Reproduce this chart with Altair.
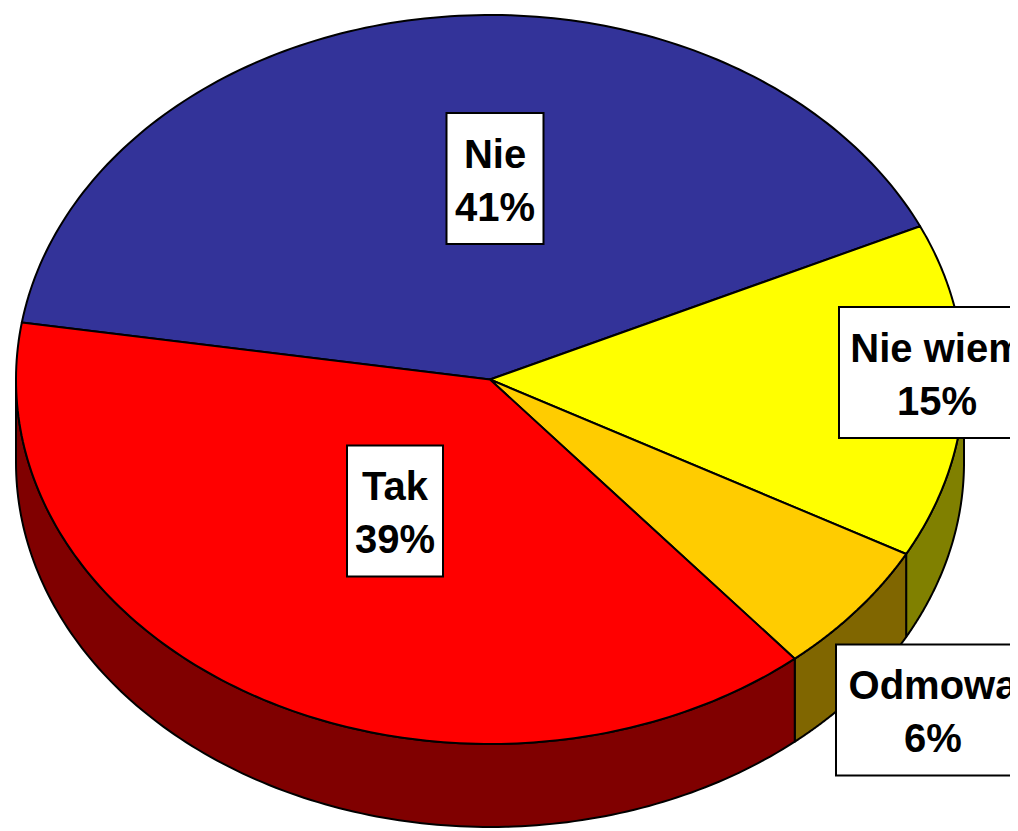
import altair as alt
import pandas as pd

# ---- data ----
categories = ["Nie", "Nie wiem", "Odmowa", "Tak"]
values = [41, 15, 6, 39]

# ---- styles ----
top_colors = ["#333399", "#FFFF00", "#FFCC00", "#FF0000"]
side_colors = ["#1A1A4D", "#808000", "#806600", "#800000"]

# ---- layout (page pixels) ----
W, H = 1002, 821
CX, CY, RX, RY, DEPTH = 490, 379.5, 474, 364.5, 83
START = 171  # degrees of the first slice's start, slices go clockwise
N = 140
label_cx = [495, 937, 933, 395]
label_cy = [178.5, 372.5, 710, 511]
label_w = [97, 196, 194, 96]
label_h = 131

slices = pd.DataFrame({"category": categories, "value": values, "order": list(range(len(categories)))})
labels = pd.DataFrame({"category": categories, "value": values,
                       "lx": label_cx, "ly": label_cy, "lw": label_w})

xs = alt.Scale(domain=[8, 8 + W], nice=False, zero=False)
ys = alt.Scale(domain=[8, 8 + H], nice=False, zero=False, reverse=True)

base = (
    alt.Chart(slices)
    .transform_joinaggregate(total="sum(value)")
    .transform_window(cum="sum(value)", sort=[alt.SortField("order")], frame=[None, 0])
    .transform_calculate(a0=f"{START} - 360*(datum.cum - datum.value)/datum.total")
    .transform_calculate(a1=f"{START} - 360*datum.cum/datum.total")
)

# side walls (visible lower half of the cylinder)
side = (
    base.transform_calculate(lo="max(datum.a1, -180)")
    .transform_calculate(hi="min(datum.a0, 0)")
    .transform_filter("datum.hi > datum.lo")
    .transform_calculate(k=f"sequence(0, {2 * N + 2})")
    .transform_flatten(["k"])
    .transform_calculate(j=f"datum.k <= {N} ? datum.k : {2 * N + 1} - datum.k")
    .transform_calculate(bot=f"datum.k > {N} ? 1 : 0")
    .transform_calculate(t=f"(datum.lo + (datum.hi - datum.lo) * datum.j / {N}) * PI / 180")
    .transform_calculate(x=f"{CX} + {RX} * cos(datum.t)")
    .transform_calculate(y=f"{CY} - {RY} * sin(datum.t) + datum.bot * {DEPTH}")
    .mark_line(interpolate="linear-closed", filled=True, stroke="black", strokeWidth=2, strokeJoin="round")
    .encode(
        x=alt.X("x:Q", scale=xs, axis=None),
        y=alt.Y("y:Q", scale=ys, axis=None),
        order=alt.Order("k:Q"),
        detail="category:N",
        color=alt.Color("category:N", scale=alt.Scale(domain=categories, range=side_colors), legend=None),
    )
)

# top face
top = (
    base.transform_calculate(k=f"sequence(-1, {N + 1})")
    .transform_flatten(["k"])
    .transform_calculate(t=f"(datum.a0 + (datum.a1 - datum.a0) * datum.k / {N}) * PI / 180")
    .transform_calculate(x=f"datum.k < 0 ? {CX} : {CX} + {RX} * cos(datum.t)")
    .transform_calculate(y=f"datum.k < 0 ? {CY} : {CY} - {RY} * sin(datum.t)")
    .mark_line(interpolate="linear-closed", filled=True, stroke="black", strokeWidth=2, strokeJoin="round")
    .encode(
        x=alt.X("x:Q", scale=xs, axis=None),
        y=alt.Y("y:Q", scale=ys, axis=None),
        order=alt.Order("k:Q"),
        detail="category:N",
        color=alt.Color("category:N", scale=alt.Scale(domain=categories, range=top_colors), legend=None),
    )
)

lab = (
    alt.Chart(labels)
    .transform_calculate(x1="datum.lx - datum.lw / 2")
    .transform_calculate(x2="datum.lx + datum.lw / 2")
    .transform_calculate(y1=f"datum.ly - {label_h / 2}")
    .transform_calculate(y2=f"datum.ly + {label_h / 2}")
    .transform_calculate(ty="datum.ly - 11")
    .transform_calculate(txt="datum.category + '\\n' + datum.value + '%'")
)

boxes = lab.mark_rect(fill="white", stroke="black", strokeWidth=2).encode(
    x=alt.X("x1:Q", scale=xs, axis=None),
    x2="x2:Q",
    y=alt.Y("y1:Q", scale=ys, axis=None),
    y2="y2:Q",
)

texts = lab.mark_text(
    font="Liberation Sans", fontWeight="bold", fontSize=40, lineBreak="\n",
    lineHeight=53, align="center", baseline="alphabetic", color="black",
).encode(
    x=alt.X("lx:Q", scale=xs, axis=None),
    y=alt.Y("ty:Q", scale=ys, axis=None),
    text="txt:N",
)

chart = (
    alt.layer(side, top, boxes, texts)
    .resolve_scale(color="independent")
    .properties(width=W, height=H, padding=0, autosize="none")
    .configure_view(stroke=None)
)

chart.save("out.html", embed_options={"renderer": "svg", "actions": False})
